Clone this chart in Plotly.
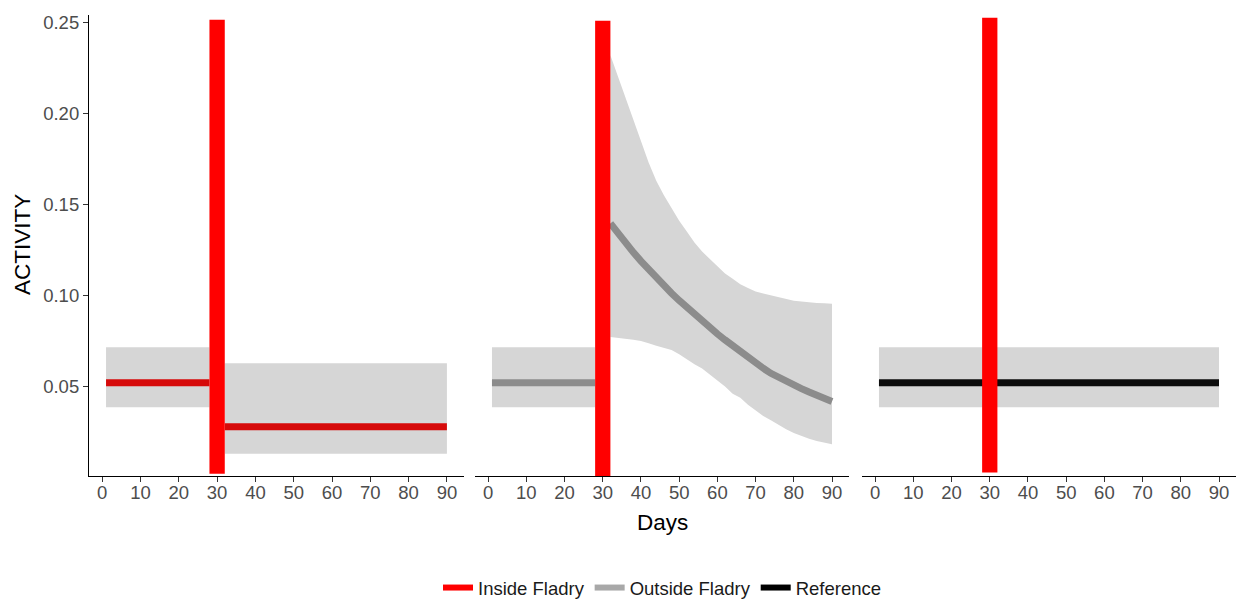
import plotly.graph_objects as go

# ---------------- data ----------------
panels = ["Inside Fladry", "Outside Fladry", "Reference"]

# pre-fladry period (days 1-28), identical for all groups
pre_days = [1, 28]
pre_fit = [0.0518, 0.0518]
pre_lo = [0.0384, 0.0384]
pre_hi = [0.0713, 0.0713]

# Inside fladry, post period
in_post_days = [32, 90]
in_post_fit = [0.0276, 0.0276]
in_post_lo = [0.0127, 0.0127]
in_post_hi = [0.0625, 0.0625]

# Outside fladry, post period
out_post_days = [32, 34, 36, 38, 40, 42, 44, 46, 48, 50, 52, 54, 56, 58, 60,
                 62, 64, 66, 68, 70, 72, 74, 76, 78, 80, 82, 84, 86, 88, 90]
out_post_fit = [0.1395, 0.1339, 0.1287, 0.1236, 0.1188, 0.1141, 0.1097, 0.1053,
                0.1011, 0.0971, 0.0932, 0.0895, 0.0859, 0.0823, 0.0787, 0.0754,
                0.0721, 0.0689, 0.0657, 0.0627, 0.0598, 0.0570, 0.0547, 0.0526,
                0.0506, 0.0486, 0.0467, 0.0449, 0.0432, 0.0415]
out_post_hi = [0.232, 0.220, 0.208, 0.196, 0.184, 0.173, 0.163, 0.155, 0.148,
               0.141, 0.135, 0.129, 0.124, 0.120, 0.116, 0.112, 0.109, 0.106,
               0.104, 0.102, 0.101, 0.100, 0.099, 0.098, 0.097, 0.0965, 0.096,
               0.0957, 0.0955, 0.0953]
out_post_lo = [0.077, 0.0765, 0.076, 0.0755, 0.0748, 0.0735, 0.0722, 0.0708,
               0.0698, 0.0675, 0.0648, 0.062, 0.0597, 0.0567, 0.0532, 0.0497,
               0.0458, 0.0436, 0.0397, 0.0364, 0.0335, 0.0312, 0.0288, 0.0262,
               0.0242, 0.0225, 0.021, 0.0198, 0.0188, 0.018]

# Reference, whole period
ref_days = [1, 90]
ref_fit = [0.0518, 0.0518]
ref_lo = [0.0384, 0.0384]
ref_hi = [0.0713, 0.0713]

# fladry installation period marker (days 28-32)
fladry_start = 28
fladry_end = 32
bar_bottom = [0.0017, 0.0005, 0.0024]
bar_top = [0.2516, 0.2510, 0.2527]

x_ticks = [0, 10, 20, 30, 40, 50, 60, 70, 80, 90]
y_ticks = [0.05, 0.10, 0.15, 0.20, 0.25]
y_tick_labels = ["0.05", "0.10", "0.15", "0.20", "0.25"]

# ---------------- style ----------------
RIBBON = "#D6D6D6"
COL_IN = "#D60A0A"
COL_OUT = "#8C8C8C"
COL_REF = "#0D0D0D"
BAR = "#FF0000"
LEG = {"Inside Fladry": "#FF0000", "Outside Fladry": "#A8A8A8", "Reference": "#000000"}
FONT = "Liberation Sans, Arial, sans-serif"

fig = go.Figure()


def ribbon(x, lo, hi, xa, ya):
    fig.add_trace(go.Scatter(
        x=list(x) + list(x)[::-1], y=list(hi) + list(lo)[::-1],
        fill="toself", fillcolor=RIBBON, line=dict(width=0), mode="lines",
        hoverinfo="skip", showlegend=False, xaxis=xa, yaxis=ya))


def line(x, y, color, xa, ya):
    fig.add_trace(go.Scatter(
        x=x, y=y, mode="lines", line=dict(color=color, width=7),
        showlegend=False, xaxis=xa, yaxis=ya))


def fladry_bar(i, xa, ya):
    fig.add_trace(go.Scatter(
        x=[fladry_start, fladry_end, fladry_end, fladry_start, fladry_start],
        y=[bar_bottom[i], bar_bottom[i], bar_top[i], bar_top[i], bar_bottom[i]],
        fill="toself", fillcolor=BAR, line=dict(width=0), mode="lines",
        hoverinfo="skip", showlegend=False, xaxis=xa, yaxis=ya))


# panel 1 : Inside
ribbon(pre_days, pre_lo, pre_hi, "x", "y")
ribbon(in_post_days, in_post_lo, in_post_hi, "x", "y")
line(pre_days, pre_fit, COL_IN, "x", "y")
line(in_post_days, in_post_fit, COL_IN, "x", "y")
fladry_bar(0, "x", "y")

# panel 2 : Outside
ribbon(pre_days, pre_lo, pre_hi, "x2", "y2")
ribbon(out_post_days, out_post_lo, out_post_hi, "x2", "y2")
line(pre_days, pre_fit, COL_OUT, "x2", "y2")
line(out_post_days, out_post_fit, COL_OUT, "x2", "y2")
fladry_bar(1, "x2", "y2")

# panel 3 : Reference
ribbon(ref_days, ref_lo, ref_hi, "x3", "y3")
line(ref_days, ref_fit, COL_REF, "x3", "y3")
fladry_bar(2, "x3", "y3")

# legend entries
for name in panels:
    fig.add_trace(go.Scatter(x=[None], y=[None], mode="lines", name=name,
                             line=dict(color=LEG[name], width=6)))

XR = [-3.45, 94.45]
YR = [0.0005, 0.2542]
tickfont = dict(family=FONT, size=18.5, color="#4D4D4D")

xcommon = dict(range=XR, tickvals=x_ticks, ticks="outside", ticklen=5,
               tickcolor="#333333", tickwidth=1.1, showline=True,
               linecolor="#000000", linewidth=1.2, showgrid=False,
               zeroline=False, tickfont=tickfont, fixedrange=True,
               ticklabelstandoff=-5)
domains = [[0.0, 0.3269], [0.3365, 0.6626], [0.6739, 1.0]]

layout = dict(
    width=1238, height=599,
    margin=dict(l=89, r=2, t=15, b=123, autoexpand=False),
    paper_bgcolor="white", plot_bgcolor="white",
    showlegend=True,
    legend=dict(orientation="h", x=0.5, xanchor="center", y=-0.243,
                yanchor="middle", font=dict(family=FONT, size=18.5, color="#1A1A1A"),
                itemwidth=30, tracegroupgap=0),
)
layout["xaxis"] = dict(xcommon, domain=domains[0], anchor="y")
layout["xaxis2"] = dict(xcommon, domain=domains[1], anchor="y2")
layout["xaxis3"] = dict(xcommon, domain=domains[2], anchor="y3")
layout["yaxis"] = dict(range=YR, tickvals=y_ticks, ticktext=y_tick_labels,
                       ticks="outside", ticklen=5, tickcolor="#333333",
                       tickwidth=1.1, showline=True, linecolor="#000000",
                       linewidth=1.2, showgrid=False, zeroline=False,
                       tickfont=tickfont, anchor="x", fixedrange=True)
for k, xa in (("yaxis2", "x2"), ("yaxis3", "x3")):
    layout[k] = dict(range=YR, showline=False, showticklabels=False,
                     ticks="", showgrid=False, zeroline=False, anchor=xa,
                     matches="y", fixedrange=True)

layout["annotations"] = [
    dict(text="Days", x=0.5, y=-0.0998, xref="paper", yref="paper",
         xanchor="center", yanchor="middle", showarrow=False,
         font=dict(family=FONT, size=22.5, color="#000000")),
    dict(text="ACTIVITY", x=-0.0584, y=0.501, xref="paper", yref="paper",
         xanchor="center", yanchor="middle", showarrow=False, textangle=-90,
         font=dict(family=FONT, size=22.5, color="#000000")),
]

fig.update_layout(**layout)
fig.write_html("out.html")
